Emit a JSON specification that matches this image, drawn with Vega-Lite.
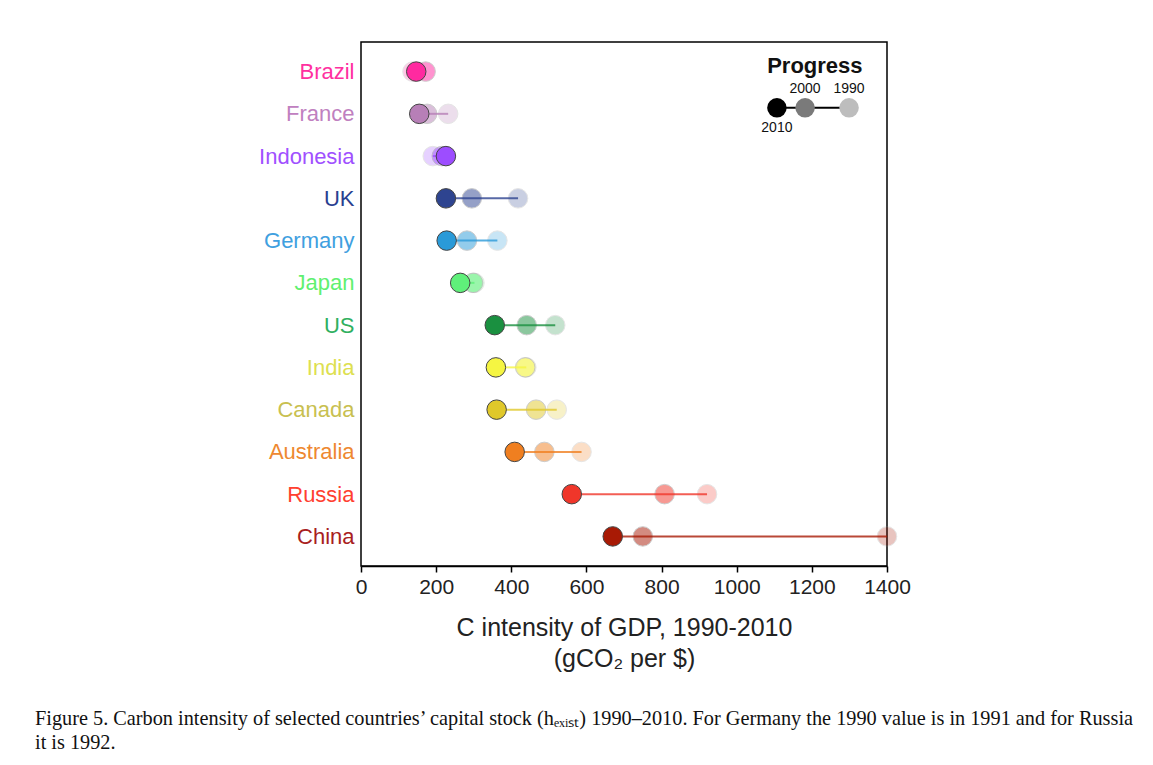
{
  "$schema": "https://vega.github.io/schema/vega-lite/v6.json",
  "width": 526,
  "height": 524,
  "autosize": {"type": "none"},
  "padding": {"left": 361, "top": 42, "right": 266, "bottom": 199},
  "background": "white",
  "config": {
    "view": {"stroke": "black", "strokeWidth": 1.5},
    "font": "Liberation Sans"
  },
  "title": {
    "text": ["Figure 5. Carbon intensity of selected countries’ capital stock (hₑₓᵢₛₜ) 1990–2010. For Germany the 1990 value is in 1991 and for Russia", "it is 1992."],
    "orient": "bottom",
    "anchor": "start",
    "frame": "group",
    "dx": -326,
    "offset": 38,
    "font": "Liberation Serif",
    "fontSize": 20.3,
    "fontWeight": "normal",
    "color": "#111",
    "lineHeight": 24
  },
  "datasets": {
    "pts": [
      {"country": "Brazil", "year": 1990, "value": 137},
      {"country": "France", "year": 1990, "value": 232},
      {"country": "Indonesia", "year": 1990, "value": 191},
      {"country": "UK", "year": 1990, "value": 418},
      {"country": "Germany", "year": 1990, "value": 363},
      {"country": "Japan", "year": 1990, "value": 302},
      {"country": "US", "year": 1990, "value": 517},
      {"country": "India", "year": 1990, "value": 440},
      {"country": "Canada", "year": 1990, "value": 521},
      {"country": "Australia", "year": 1990, "value": 587},
      {"country": "Russia", "year": 1990, "value": 921},
      {"country": "China", "year": 1990, "value": 1400},
      {"country": "Brazil", "year": 2000, "value": 172},
      {"country": "France", "year": 2000, "value": 176},
      {"country": "Indonesia", "year": 2000, "value": 215},
      {"country": "UK", "year": 2000, "value": 295},
      {"country": "Germany", "year": 2000, "value": 282},
      {"country": "Japan", "year": 2000, "value": 298},
      {"country": "US", "year": 2000, "value": 441},
      {"country": "India", "year": 2000, "value": 437},
      {"country": "Canada", "year": 2000, "value": 466},
      {"country": "Australia", "year": 2000, "value": 488},
      {"country": "Russia", "year": 2000, "value": 808},
      {"country": "China", "year": 2000, "value": 750},
      {"country": "Brazil", "year": 2010, "value": 147},
      {"country": "France", "year": 2010, "value": 155},
      {"country": "Indonesia", "year": 2010, "value": 226},
      {"country": "UK", "year": 2010, "value": 226},
      {"country": "Germany", "year": 2010, "value": 228},
      {"country": "Japan", "year": 2010, "value": 264},
      {"country": "US", "year": 2010, "value": 356},
      {"country": "India", "year": 2010, "value": 359},
      {"country": "Canada", "year": 2010, "value": 361},
      {"country": "Australia", "year": 2010, "value": 409},
      {"country": "Russia", "year": 2010, "value": 561},
      {"country": "China", "year": 2010, "value": 670}
    ],
    "leg": [
      {"year": "1990", "value": 1299},
      {"year": "2000", "value": 1182},
      {"year": "2010", "value": 1107}
    ]
  },
  "encoding": {
    "y": {
      "field": "country",
      "type": "nominal",
      "sort": ["Brazil", "France", "Indonesia", "UK", "Germany", "Japan", "US", "India", "Canada", "Australia", "Russia", "China"],
      "scale": {"type": "point", "padding": 0.7},
      "axis": {
        "title": null,
        "ticks": false,
        "domain": false,
        "labelFontSize": 22,
        "labelPadding": 7,
        "labelColor": {"expr": "['#ff30a0','#c080c0','#a050ff','#2a4090','#40a0e0','#60f070','#30b060','#dde050','#c8c050','#ee8830','#ff4030','#a82020'][indexof(['Brazil','France','Indonesia','UK','Germany','Japan','US','India','Canada','Australia','Russia','China'], datum.value)]"}
      }
    },
    "color": {
      "field": "country", "type": "nominal", "legend": null,
      "scale": {
        "domain": ["Brazil", "France", "Indonesia", "UK", "Germany", "Japan", "US", "India", "Canada", "Australia", "Russia", "China"],
        "range": ["#ff2aa0", "#b77fb7", "#9d4dff", "#2e4490", "#2a9ad8", "#5ff07a", "#1a9040", "#f5f542", "#e0c82a", "#f07f20", "#f0362a", "#a81a05"]
      }
    }
  },
  "layer": [
    {
      "data": {"name": "pts"},
      "transform": [{"filter": "datum.year == 1990"}],
      "mark": {"type": "point", "filled": true, "size": 380, "strokeWidth": 1, "opacity": 0.25, "stroke": "#999"},
      "encoding": {
        "x": {
          "field": "value", "type": "quantitative",
          "scale": {"domain": [0, 1400], "nice": false},
          "axis": {
            "values": [0, 200, 400, 600, 800, 1000, 1200, 1400],
            "format": "d",
            "labelOverlap": false,
            "labelBound": false,
            "labelFlush": false,
            "grid": false,
            "domainColor": "black",
            "domainWidth": 1.5,
            "tickColor": "black",
            "tickWidth": 1.5,
            "tickSize": 6,
            "labelFontSize": 21,
            "labelColor": "#222",
            "labelPadding": 4,
            "title": ["C intensity of GDP, 1990-2010", "(gCO₂ per $)"],
            "titleFontSize": 25,
            "titleFontWeight": "normal",
            "titleColor": "#222",
            "titlePadding": 18,
            "titleLineHeight": 31
          }
        }
      }
    },
    {
      "data": {"name": "pts"},
      "transform": [{"filter": "datum.year == 2000"}],
      "mark": {"type": "point", "filled": true, "size": 380, "strokeWidth": 1, "opacity": 0.5, "stroke": "#999"},
      "encoding": {
        "x": {"field": "value", "type": "quantitative"}
      }
    },
    {
      "data": {"name": "pts"},
      "transform": [{"filter": "datum.year != 2000"}],
      "mark": {"type": "rule", "strokeWidth": 2, "opacity": 0.8},
      "encoding": {
        "x": {"aggregate": "min", "field": "value", "type": "quantitative"},
        "x2": {"aggregate": "max", "field": "value"}
      }
    },
    {
      "data": {"name": "pts"},
      "transform": [{"filter": "datum.year == 2010"}],
      "mark": {"type": "point", "filled": true, "size": 380, "strokeWidth": 1, "opacity": 1, "stroke": "#444"},
      "encoding": {
        "x": {"field": "value", "type": "quantitative"}
      }
    },
    {
      "data": {"name": "leg"},
      "mark": {"type": "rule", "color": "black", "strokeWidth": 2, "yOffset": -6},
      "encoding": {
        "x": {"aggregate": "min", "field": "value", "type": "quantitative"},
        "x2": {"aggregate": "max", "field": "value"},
        "y": {"datum": "France"},
        "color": {"value": "black"}
      }
    },
    {
      "data": {"name": "leg"},
      "mark": {"type": "point", "filled": true, "size": 380, "opacity": 1, "yOffset": -6},
      "encoding": {
        "x": {"field": "value", "type": "quantitative"},
        "y": {"datum": "France"},
        "color": {"value": null},
        "fill": {
          "field": "year", "type": "nominal", "legend": null,
          "scale": {"domain": ["1990", "2000", "2010"], "range": ["#bdbdbd", "#7a7a7a", "#000000"]}
        }
      }
    },
    {
      "data": {"name": "leg"},
      "transform": [{"filter": "datum.year != '2010'"}],
      "mark": {"type": "text", "fontSize": 14, "dy": -25},
      "encoding": {
        "x": {"field": "value", "type": "quantitative"},
        "y": {"datum": "France"},
        "color": {"value": "#111"},
        "text": {"field": "year"}
      }
    },
    {
      "data": {"name": "leg"},
      "transform": [{"filter": "datum.year == '2010'"}],
      "mark": {"type": "text", "fontSize": 14, "dy": 14},
      "encoding": {
        "x": {"field": "value", "type": "quantitative"},
        "y": {"datum": "France"},
        "color": {"value": "#111"},
        "text": {"field": "year"}
      }
    },
    {
      "data": {"values": [{"label": "Progress", "value": 1208}]},
      "mark": {"type": "text", "fontSize": 22, "fontWeight": "bold", "dy": -48},
      "encoding": {
        "x": {"field": "value", "type": "quantitative"},
        "y": {"datum": "France"},
        "color": {"value": "#111"},
        "text": {"field": "label"}
      }
    }
  ]
}
